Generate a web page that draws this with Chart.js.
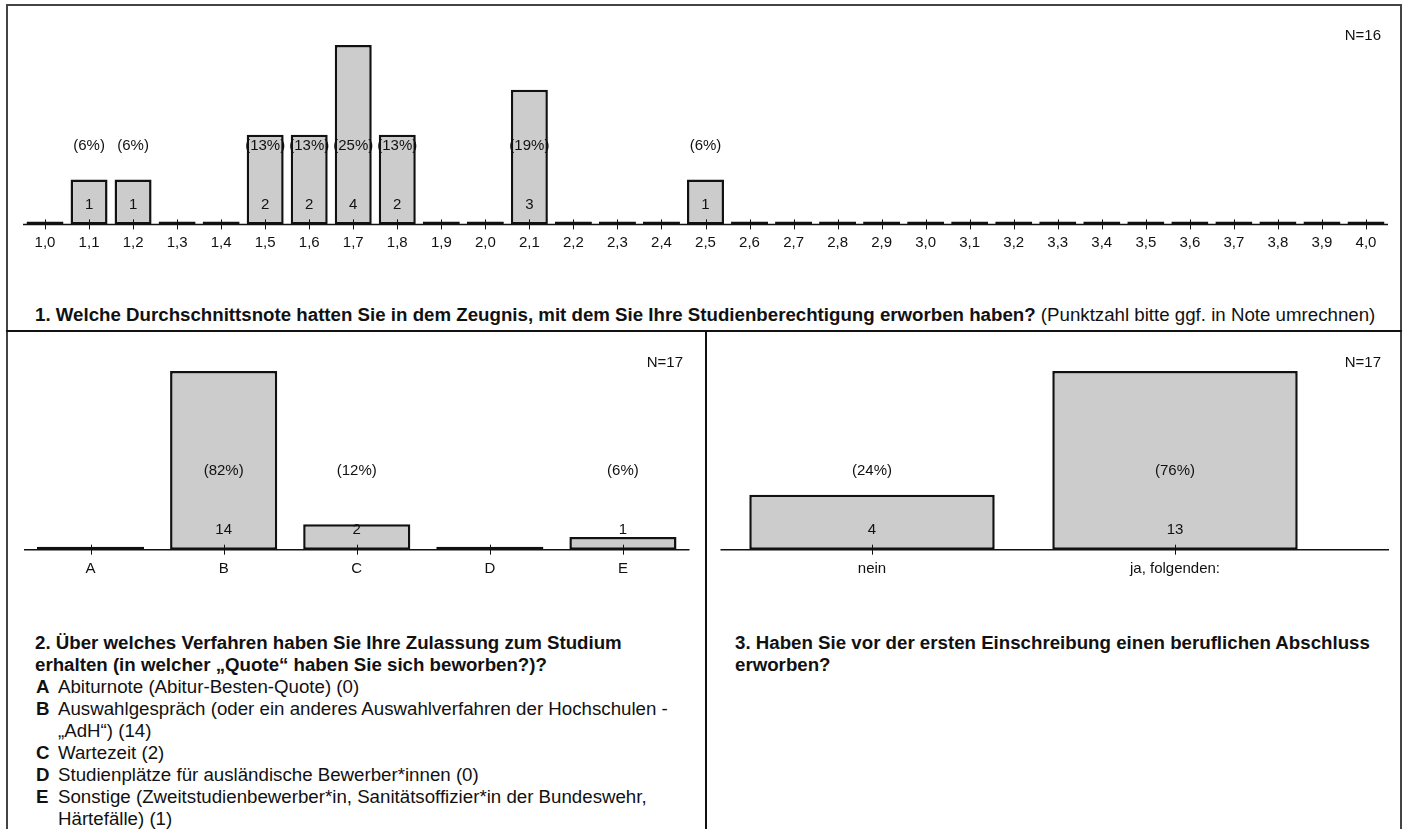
<!DOCTYPE html>
<html lang="de">
<head>
<meta charset="utf-8">
<title>Studienzugang</title>
<script src="https://cdn.jsdelivr.net/npm/chart.js@4.4.1/dist/chart.umd.min.js"></script>
<style>
    body {
        margin: 0;
        width: 1407px;
        height: 829px;
        position: relative;
        overflow: hidden;
        background: #fff;
        font-family: "Liberation Sans", Arial, sans-serif;
        color: #111;
    }
    .linie { position: absolute; background: #444; }
    .trenner { position: absolute; background: #111; }
    canvas { position: absolute; }
    .n-wert {
        position: absolute;
        font-size: 15px;
        line-height: 18px;
        text-align: right;
        width: 80px;
    }
    .frage {
        position: absolute;
        font-size: 18.7px;
        line-height: 22px;
        white-space: nowrap;
    }
    .frage b { font-weight: bold; }
    .antwort { position: relative; padding-left: 23px; }
    .antwort b { position: absolute; left: 1px; }
</style>
</head>
<body>

<!-- Rahmen -->
<div class="linie" style="left:6px; top:4px; width:1396px; height:2px;"></div>
<div class="linie" style="left:6px; top:4px; width:2px; height:830px;"></div>
<div class="linie" style="left:1400px; top:4px; width:2px; height:830px;"></div>
<div class="trenner" style="left:6px; top:330px; width:1396px; height:2px;"></div>
<div class="trenner" style="left:705px; top:330px; width:2px; height:500px;"></div>

<canvas id="notenChart" width="1407" height="269" style="left:0; top:0;"></canvas>
<canvas id="verfahrenChart" width="705" height="266" style="left:0; top:331px;"></canvas>
<canvas id="abschlussChart" width="701" height="266" style="left:706px; top:331px;"></canvas>

<div class="n-wert" style="left:1301px; top:26px;">N=16</div>
<div class="n-wert" style="left:603px; top:353px;">N=17</div>
<div class="n-wert" style="left:1301px; top:353px;">N=17</div>

<div class="frage" style="left:35px; top:304px;">
    <b>1. Welche Durchschnittsnote hatten Sie in dem Zeugnis, mit dem Sie Ihre Studienberechtigung erworben haben?</b> (Punktzahl bitte ggf. in Note umrechnen)
</div>

<div class="frage" style="left:35px; top:632px;">
    <b>2. Über welches Verfahren haben Sie Ihre Zulassung zum Studium<br>erhalten (in welcher „Quote“ haben Sie sich beworben?)?</b>
    <div class="antwort"><b>A</b>Abiturnote (Abitur-Besten-Quote) (0)</div>
    <div class="antwort"><b>B</b>Auswahlgespräch (oder ein anderes Auswahlverfahren der Hochschulen -<br>„AdH“) (14)</div>
    <div class="antwort"><b>C</b>Wartezeit (2)</div>
    <div class="antwort"><b>D</b>Studienplätze für ausländische Bewerber*innen (0)</div>
    <div class="antwort"><b>E</b>Sonstige (Zweitstudienbewerber*in, Sanitätsoffizier*in der Bundeswehr,<br>Härtefälle) (1)</div>
</div>

<div class="frage" style="left:735px; top:632px;">
    <b>3. Haben Sie vor der ersten Einschreibung einen beruflichen Abschluss<br>erworben?</b>
</div>

<script>
// ==============================
// DATEN
// ==============================

// Frage 1: Durchschnittsnote
const notenLabels = ['1,0', '1,1', '1,2', '1,3', '1,4', '1,5', '1,6', '1,7', '1,8', '1,9',
                     '2,0', '2,1', '2,2', '2,3', '2,4', '2,5', '2,6', '2,7', '2,8', '2,9',
                     '3,0', '3,1', '3,2', '3,3', '3,4', '3,5', '3,6', '3,7', '3,8', '3,9', '4,0'];
const notenCounts = [0, 1, 1, 0, 0, 2, 2, 4, 2, 0,
                     0, 3, 0, 0, 0, 1, 0, 0, 0, 0,
                     0, 0, 0, 0, 0, 0, 0, 0, 0, 0, 0];
const notenN = 16;

// Frage 2: Zulassungsverfahren
const verfahrenLabels = ['A', 'B', 'C', 'D', 'E'];
const verfahrenCounts = [0, 14, 2, 0, 1];
const verfahrenN = 17;

// Frage 3: beruflicher Abschluss
const abschlussLabels = ['nein', 'ja, folgenden:'];
const abschlussCounts = [4, 13];
const abschlussN = 17;

const FONT_FAMILY = '"Liberation Sans", Arial, sans-serif';

// ==============================
// PLUGIN: Grundlinie, Ticks, Werte
// ==============================
const beschriftungPlugin = {
    id: 'beschriftung',
    afterDatasetsDraw(chart, args, opts) {
        const ctx = chart.ctx;
        const xScale = chart.scales.x;
        const yScale = chart.scales.y;
        const base = yScale.getPixelForValue(0);
        const values = chart.data.datasets[0].data;

        ctx.save();

        // Grundlinie
        ctx.strokeStyle = '#111';
        ctx.lineWidth = 1.5;
        ctx.beginPath();
        ctx.moveTo(chart.chartArea.left, base);
        ctx.lineTo(chart.chartArea.right + (opts.extendRight || 0), base);
        ctx.stroke();

        // kleine Kreuz-Ticks
        ctx.lineWidth = 1;
        values.forEach((v, i) => {
            const px = Math.round(xScale.getPixelForTick(i)) + 0.5;
            ctx.beginPath();
            ctx.moveTo(px, base - 5);
            ctx.lineTo(px, base + 5);
            ctx.stroke();
        });

        // Prozent und Anzahl
        ctx.fillStyle = '#111';
        ctx.font = '15px ' + FONT_FAMILY;
        ctx.textAlign = 'center';
        ctx.textBaseline = 'middle';
        values.forEach((v, i) => {
            if (!v) return;
            const px = xScale.getPixelForTick(i);
            const pct = Math.round(v / opts.n * 100);
            ctx.fillText('(' + pct + '%)', px, base - opts.pctOffset);
            ctx.fillText(String(v), px, base - opts.cntOffset);
        });

        ctx.restore();
    }
};

// ==============================
// INITIALISIERUNG
// ==============================
document.addEventListener('DOMContentLoaded', function() {
    createBarChart('notenChart', notenLabels, notenCounts, {
        n: notenN,
        barPercentage: 0.84,
        padding: { top: 45, left: 23, right: 19, bottom: 8.6 },
        tickPadding: 9,
        extendRight: 0
    });
    createBarChart('verfahrenChart', verfahrenLabels, verfahrenCounts, {
        n: verfahrenN,
        barPercentage: 0.805,
        padding: { top: 40, left: 24, right: 15.5, bottom: 9.3 },
        tickPadding: 10,
        extendRight: 0
    });
    createBarChart('abschlussChart', abschlussLabels, abschlussCounts, {
        n: abschlussN,
        barPercentage: 0.81,
        padding: { top: 40, left: 14.5, right: 80.5, bottom: 9.3 },
        tickPadding: 10,
        extendRight: 62.5
    });
});

function createBarChart(canvasId, labels, counts, cfg) {
    const ctx = document.getElementById(canvasId);
    if (!ctx) return;

    new Chart(ctx, {
        type: 'bar',
        data: {
            labels: labels,
            datasets: [{
                data: counts,
                backgroundColor: '#cccccc',
                borderColor: '#111111',
                borderWidth: 2.5,
                borderSkipped: false,
                minBarLength: 3,
                categoryPercentage: 1,
                barPercentage: cfg.barPercentage
            }]
        },
        options: {
            responsive: false,
            animation: false,
            events: [],
            layout: { padding: cfg.padding },
            plugins: {
                legend: { display: false },
                tooltip: { enabled: false },
                beschriftung: {
                    n: cfg.n,
                    pctOffset: 79,
                    cntOffset: 19.5,
                    extendRight: cfg.extendRight
                }
            },
            scales: {
                x: {
                    offset: true,
                    grid: { display: false, drawTicks: false },
                    border: { display: false },
                    ticks: {
                        color: '#111',
                        padding: cfg.tickPadding,
                        autoSkip: false,
                        maxRotation: 0,
                        font: { family: FONT_FAMILY, size: 15 }
                    }
                },
                y: {
                    display: false,
                    min: 0,
                    max: Math.max(...counts)
                }
            }
        },
        plugins: [beschriftungPlugin]
    });
}
</script>
</body>
</html>
